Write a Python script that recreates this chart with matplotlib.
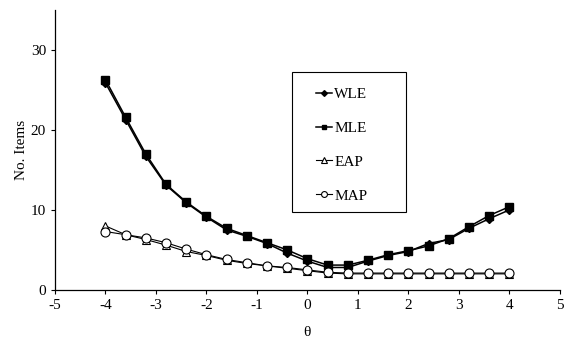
import numpy as np
import matplotlib.pyplot as plt
from matplotlib.patches import Rectangle

plt.rcParams['font.family'] = ['Liberation Serif', 'DejaVu Serif']
plt.rcParams['axes.unicode_minus'] = False

theta = [-4.0, -3.6, -3.2, -2.8, -2.4, -2.0, -1.6, -1.2, -0.8, -0.4, 0.0,
         0.4, 0.8, 1.2, 1.6, 2.0, 2.4, 2.8, 3.2, 3.6, 4.0]

wle = [25.9, 21.3, 16.7, 13.1, 10.9, 9.1, 7.5, 6.7, 5.8, 4.6, 3.6,
       2.8, 2.8, 3.6, 4.3, 4.8, 5.8, 6.3, 7.7, 8.9, 10.0]
mle = [26.3, 21.6, 17.0, 13.2, 11.0, 9.2, 7.7, 6.8, 5.9, 5.0, 3.9,
       3.1, 3.1, 3.7, 4.4, 4.9, 5.5, 6.4, 7.9, 9.3, 10.4]
eap = [8.0, 6.9, 6.3, 5.6, 4.8, 4.3, 3.7, 3.3, 3.0, 2.7, 2.4,
       2.1, 2.0, 2.0, 2.0, 2.0, 2.0, 2.0, 2.0, 2.0, 2.0]
map_ = [7.3, 6.9, 6.5, 5.9, 5.1, 4.4, 3.8, 3.4, 3.0, 2.8, 2.5,
        2.2, 2.1, 2.1, 2.1, 2.1, 2.1, 2.1, 2.1, 2.1, 2.1]

fig = plt.figure(figsize=(5.64, 3.41), dpi=100)
ax = fig.add_axes([0.0975, 0.15, 0.895, 0.82])

ax.plot(theta, wle, color='black', lw=1.1, marker='D', ms=4.5,
        mfc='black', mec='black', label='WLE')
ax.plot(theta, mle, color='black', lw=1.1, marker='s', ms=5.5,
        mfc='black', mec='black', label='MLE')
ax.plot(theta, eap, color='black', lw=0.8, marker='^', ms=6,
        mfc='white', mec='black', mew=0.8, label='EAP')
ax.plot(theta, map_, color='black', lw=0.8, marker='o', ms=6.5,
        mfc='white', mec='black', mew=0.8, label='MAP')

ax.set_xlim(-5, 5)
ax.set_ylim(0, 35)
ax.set_xticks(range(-5, 6))
ax.set_yticks([0, 10, 20, 30])
ax.spines['top'].set_visible(False)
ax.spines['right'].set_visible(False)
ax.spines['left'].set_linewidth(0.9)
ax.spines['bottom'].set_linewidth(0.9)
ax.tick_params(direction='out', length=3, width=0.8, labelsize=11)
ax.set_xlabel('θ', fontsize=11, labelpad=10)
ax.set_ylabel('No. Items', fontsize=11, labelpad=2)

# legend box drawn on its own, the entries sit off-centre in it
ax.add_patch(Rectangle((0.469, 0.279), 0.226, 0.5, transform=ax.transAxes,
                       fill=False, edgecolor='black', lw=0.8, zorder=5))
ax.legend(loc='upper left', bbox_to_anchor=(0.518, 0.724), frameon=False,
          fontsize=11, handlelength=1.0, handletextpad=0.15,
          labelspacing=1.32, borderpad=0, borderaxespad=0, markerscale=0.65)

fig.savefig('out.png', dpi=100)
